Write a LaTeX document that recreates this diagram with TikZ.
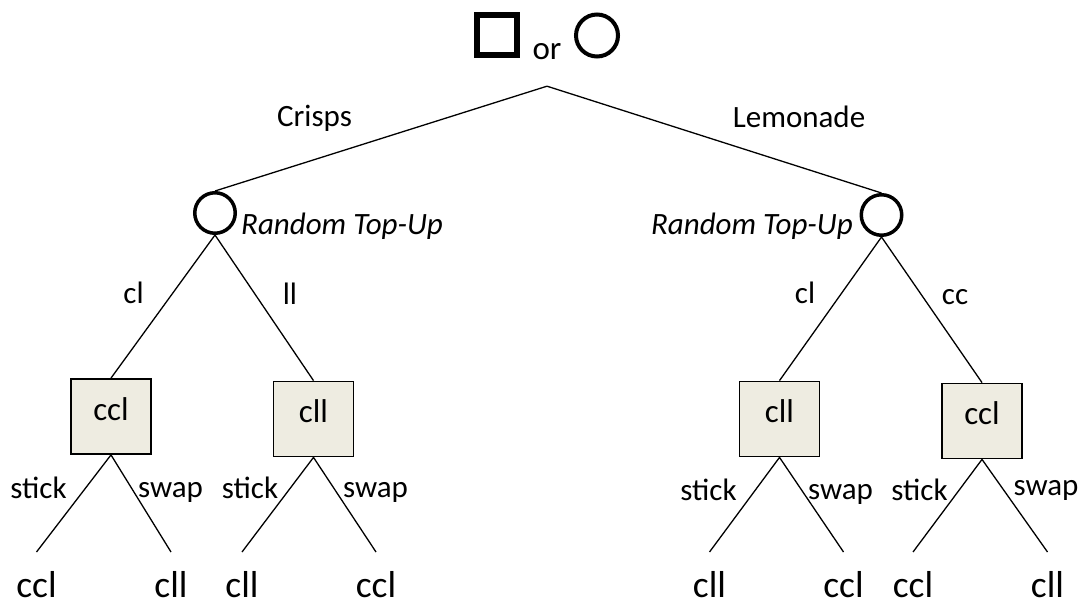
\documentclass[tikz,border=0pt]{standalone}
\usepackage{fontspec}
\setmainfont{Carlito}
\definecolor{boxfill}{RGB}{238,236,225}
\begin{document}
\begin{tikzpicture}[x=1pt,y=-1pt,
  lbl/.style={font=\fontsize{31}{37}\selectfont, inner sep=0pt, anchor=base},
  itl/.style={font=\fontsize{31}{37}\selectfont\itshape, inner sep=0pt},
  leaf/.style={font=\fontsize{37.5}{44}\selectfont, inner sep=0pt, anchor=north, text height=45pt},
  boxn/.style={draw, line width=1.8pt, fill=boxfill, minimum width=80pt, minimum height=75pt, inner sep=0pt, font=\fontsize{33}{39}\selectfont, text height=23pt, text depth=16pt},
  chance/.style={circle, draw, line width=3.5pt, minimum size=40.5pt, inner sep=0pt},
  edge/.style={line width=1.3pt}]
\useasboundingbox (0,0) rectangle (1083,601);
% top
\node[draw, line width=6pt, minimum size=40pt, inner sep=0pt] (sq) at (497,35.5) {};
\node[circle, draw, line width=4pt, minimum size=42pt, inner sep=0pt] (ci) at (597,35.5) {};
\node[lbl, font=\fontsize{33}{39}\selectfont, text depth=26pt] (top) at (547,60) {or};
% chance nodes
\node[chance] (c1) at (215,213) {};
\node[chance] (c2) at (881.5,215) {};
\node[itl, anchor=base west] (r1) at (241,235) {Random Top-Up};
\node[itl, anchor=base east] (r2) at (853,235) {Random Top-Up};
% boxes
\node[boxn] (b1) at (111,416.5) {ccl};
\node[boxn] (b2) at (313.5,419) {cll};
\node[boxn] (b3) at (779.5,419) {cll};
\node[boxn] (b4) at (982,421) {ccl};
% leaves
\node[leaf] (l1) at (36.5,552) {ccl};
\node[leaf] (l2) at (171,552) {cll};
\node[leaf] (l3) at (242,552) {cll};
\node[leaf] (l4) at (376,552) {ccl};
\node[leaf] (l5) at (709.5,552) {cll};
\node[leaf] (l6) at (843.5,552) {ccl};
\node[leaf] (l7) at (913,552) {ccl};
\node[leaf] (l8) at (1047.5,552) {cll};
% edges
\draw[edge] (c1.north) -- (top.south) -- (c2.north);
\draw[edge] (b1.north) -- (c1.south) -- (b2.north);
\draw[edge] (b3.north) -- (c2.south) -- (b4.north);
\draw[edge] (l1.north) -- (b1.south) -- (l2.north);
\draw[edge] (l3.north) -- (b2.south) -- (l4.north);
\draw[edge] (l5.north) -- (b3.south) -- (l6.north);
\draw[edge] (l7.north) -- (b4.south) -- (l8.north);
% edge labels
\node[lbl] (e1) at (314.5,127) {Crisps};
\node[lbl] (e2) at (799,128) {Lemonade};
\node[lbl] (e3) at (133.5,304) {cl};
\node[lbl] (e4) at (290,305) {ll};
\node[lbl] (e5) at (805,304) {cl};
\node[lbl] (e6) at (955,305) {cc};
\node[lbl] (s1) at (38.5,498) {stick};
\node[lbl] (w1) at (170.5,497) {swap};
\node[lbl] (s2) at (250,498) {stick};
\node[lbl] (w2) at (375.5,497) {swap};
\node[lbl] (s3) at (708.5,500) {stick};
\node[lbl] (w3) at (840.5,499) {swap};
\node[lbl] (s4) at (919.5,500) {stick};
\node[lbl] (w4) at (1046,495) {swap};
\end{tikzpicture}
\end{document}
